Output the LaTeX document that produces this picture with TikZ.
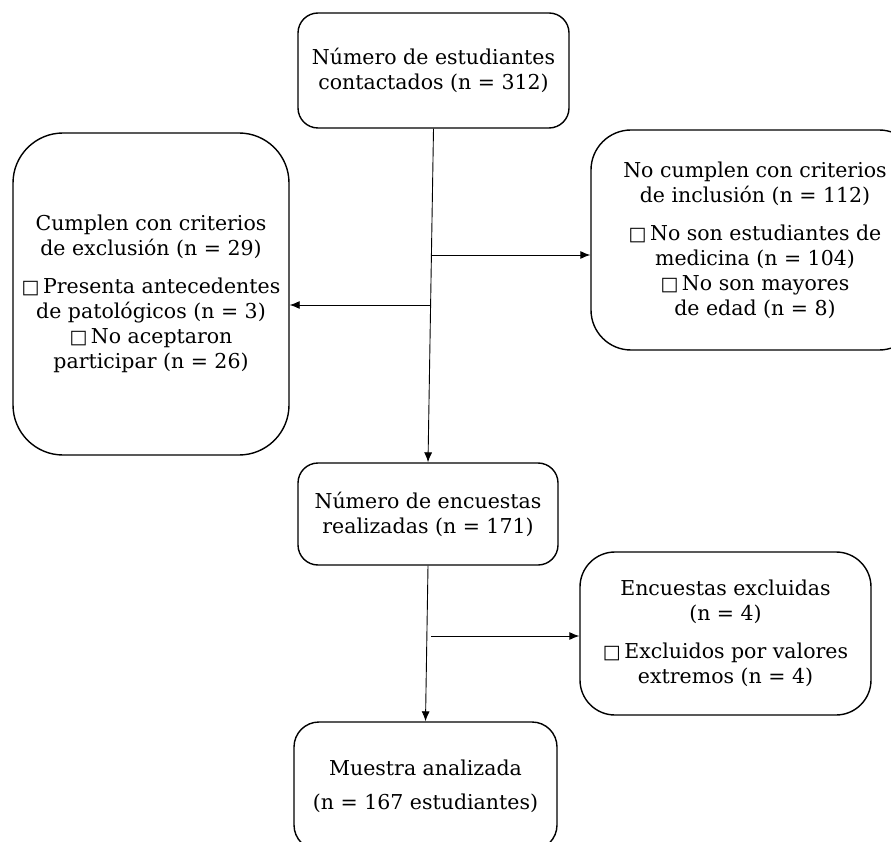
\documentclass[tikz,border=0pt]{standalone}
\usepackage{fontspec}
\setmainfont{DejaVu Serif}
\newfontfamily\symfont{DejaVu Sans}
\usepackage{tikz}
\usetikzlibrary{arrows.meta,positioning,calc}
\tikzset{>={Latex[length=10pt,width=8pt]},auto}
\tikzset{caja/.style={draw,line width=1.4pt,align=center,inner sep=0pt}}
\newcommand{\casilla}{{\symfont\fontsize{19}{25}\selectfont\char"25A1}\,}

\begin{document}
\begin{tikzpicture}[x=1pt,y=-1pt,font=\fontsize{20.5}{25}\selectfont]
    \useasboundingbox (0,0) rectangle (891,842);
    \clip (0,0) rectangle (891,842);

    \node[caja,rounded corners=20pt,minimum width=271pt,minimum height=115pt] (contactados) at (433.5,70.5)
        {Número de estudiantes\\contactados (n = 312)};
    \node[caja,rounded corners=50pt,minimum width=276pt,minimum height=322pt] (exclusion) at (151,294)
        {Cumplen con criterios\\de exclusión (n = 29)\\[13pt]
         \casilla Presenta antecedentes\\de patológicos (n = 3)\\
         \casilla No aceptaron\\participar (n = 26)};
    \node[caja,rounded corners=40pt,minimum width=328pt,minimum height=220pt] (inclusion) at (755,240)
        {No cumplen con criterios\\de inclusión (n = 112)\\[13pt]
         \casilla No son estudiantes de\\medicina (n = 104)\\
         \casilla No son mayores\\de edad (n = 8)};
    \node[caja,rounded corners=20pt,minimum width=260pt,minimum height=102pt] (encuestas) at (428,514)
        {Número de encuestas\\realizadas (n = 171)};
    \node[caja,rounded corners=35pt,minimum width=291pt,minimum height=163pt] (excluidas) at (725.5,633.5)
        {Encuestas excluidas\\(n = 4)\\[13pt]
         \casilla Excluidos por valores\\extremos (n = 4)};
    \node[caja,rounded corners=25pt,minimum width=263pt,minimum height=128pt] (muestra) at (425.5,786)
        {Muestra analizada\\[9pt](n = 167 estudiantes)};

    \coordinate (r1) at (431,255);
    \coordinate (l1) at (431,305);
    \coordinate (r2) at (431,636);

    \path[->,line width=0.9pt]
        (contactados.south) edge (encuestas.north)
        (r1) edge (r1 -| inclusion.west)
        (l1) edge (l1 -| exclusion.east)
        (encuestas.south) edge (muestra.north)
        (r2) edge (r2 -| excluidas.west)
        ;
\end{tikzpicture}
\end{document}
